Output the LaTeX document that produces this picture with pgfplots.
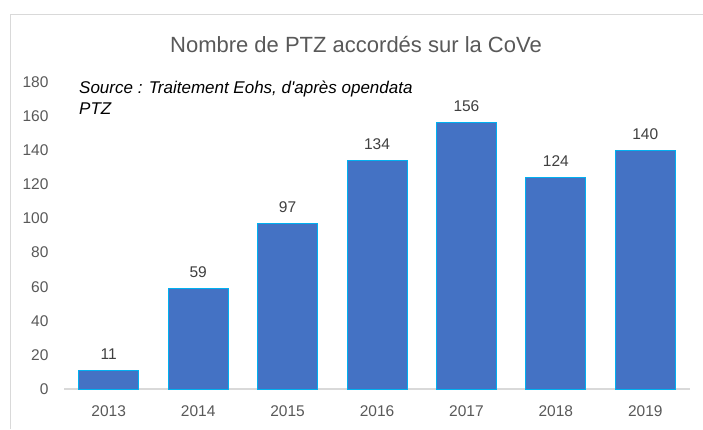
\documentclass[border=0pt]{standalone}
\usepackage{pgfplots}
\pgfplotsset{compat=1.18}
\usepackage{fontspec}
\setmainfont{Liberation Sans}
\definecolor{barblue}{HTML}{4472C4}
\definecolor{baredge}{HTML}{00B0F0}
\definecolor{txtgray}{HTML}{595959}
\definecolor{lblgray}{HTML}{404040}
\definecolor{framegray}{HTML}{D9D9D9}
\begin{document}
\begin{tikzpicture}[x=1bp,y=1bp]
\path[use as bounding box] (0,0) rectangle (703,429);
\fill[white] (0,0) rectangle (703,429);
\draw[framegray, line width=1.5bp] (10.5,0) -- (10.5,414.5) -- (703,414.5);
\begin{axis}[
  at={(64bp,40bp)}, anchor=south west,
  scale only axis, width=626bp, height=307bp,
  xmin=-0.5, xmax=6.5, ymin=0, ymax=180,
  ytick={0,20,...,180},
  xtick={0,...,6},
  xticklabels={2013,2014,2015,2016,2017,2018,2019},
  axis x line=bottom, axis y line=left,
  x axis line style={draw=framegray, line width=1.2bp, -},
  y axis line style={draw=none},
  major tick length=0pt,
  tick style={draw=none},
  /pgf/number format/assume math mode=true,
  ticklabel style={font=\fontsize{15.5bp}{17bp}\selectfont, text=txtgray},
  yticklabel style={anchor=east, xshift=-12bp},
  xticklabel style={anchor=north, yshift=-13bp},
  ybar, bar width=60bp,
  nodes near coords,
  every node near coord/.append style={font=\fontsize{15.5bp}{17bp}\selectfont, text=lblgray, yshift=7bp},
  clip=false,
]
\addplot[fill=barblue, draw=baredge, line width=1bp] coordinates {
  (0,11) (1,59) (2,97) (3,134) (4,156) (5,124) (6,140)
};
\end{axis}
\node[anchor=center, text=txtgray, font=\fontsize{22bp}{26bp}\selectfont] at (356,384) {Nombre de PTZ accordés sur la CoVe};
\node[anchor=north west, inner sep=0pt, align=left, font=\fontsize{17bp}{21bp}\selectfont\itshape] at (79,348) {Source : Traitement Eohs, d\textquotesingle après opendata\\PTZ};
\end{tikzpicture}
\end{document}
